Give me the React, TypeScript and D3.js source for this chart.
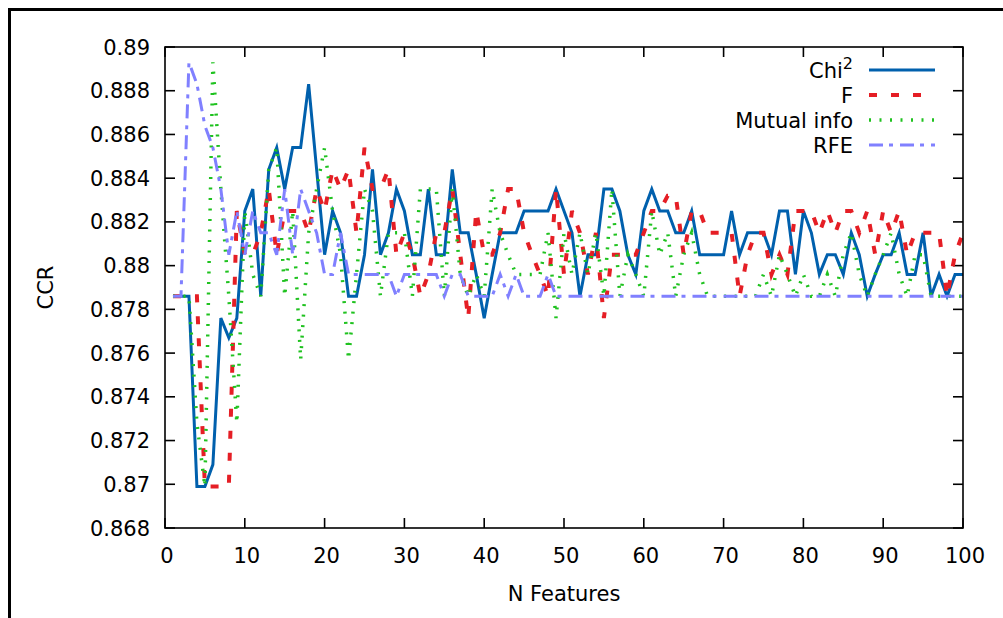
import React from "react";
import * as d3 from "d3";

// number of selected features (x) and classification rate (CCR) per method
const nFeatures = d3.range(1, 101);

const chi2 = [
  0.8786, 0.8786, 0.8786, 0.8699, 0.8699, 0.8709, 0.8776, 0.8767, 0.8776, 0.8825,
  0.8835, 0.8786, 0.8844, 0.8854, 0.8835, 0.8854, 0.8854, 0.8883, 0.8844, 0.8805,
  0.8825, 0.8815, 0.8786, 0.8786, 0.8805, 0.8844, 0.8805, 0.8815, 0.8835, 0.8825,
  0.8805, 0.8805, 0.8835, 0.8805, 0.8805, 0.8844, 0.8815, 0.8815, 0.8796, 0.8776,
  0.8796, 0.8815, 0.8815, 0.8815, 0.8825, 0.8825, 0.8825, 0.8825, 0.8835, 0.8825,
  0.8815, 0.8786, 0.8805, 0.8805, 0.8835, 0.8835, 0.8825, 0.8805, 0.8796, 0.8825,
  0.8835, 0.8825, 0.8825, 0.8815, 0.8815, 0.8825, 0.8805, 0.8805, 0.8805, 0.8805,
  0.8825, 0.8805, 0.8815, 0.8815, 0.8815, 0.8805, 0.8825, 0.8825, 0.8796, 0.8825,
  0.8815, 0.8796, 0.8805, 0.8805, 0.8796, 0.8815, 0.8805, 0.8786, 0.8796, 0.8805,
  0.8805, 0.8815, 0.8796, 0.8796, 0.8815, 0.8786, 0.8796, 0.8786, 0.8796, 0.8796,
];

const fScore = [
  0.8786, 0.8786, 0.8786, 0.8786, 0.8699, 0.8699, 0.8699, 0.8699, 0.8825, 0.8805,
  0.8805, 0.8815, 0.8835, 0.8805, 0.8825, 0.8825, 0.8825, 0.8815, 0.8835, 0.8825,
  0.8844, 0.8835, 0.8844, 0.8815, 0.8854, 0.8835, 0.8835, 0.8844, 0.8805, 0.8815,
  0.8805, 0.8786, 0.8796, 0.8815, 0.8815, 0.8835, 0.8805, 0.8776, 0.8825, 0.8805,
  0.8805, 0.8815, 0.8835, 0.8835, 0.8815, 0.8805, 0.8796, 0.8786, 0.8835, 0.8796,
  0.8825, 0.8815, 0.8796, 0.8815, 0.8776, 0.8805, 0.8805, 0.8805, 0.8805, 0.8815,
  0.8825, 0.8825, 0.8832, 0.8832, 0.8805, 0.8825, 0.8825, 0.8815, 0.8815, 0.8815,
  0.8815, 0.8786, 0.8805, 0.8815, 0.8815, 0.8796, 0.8805, 0.8796, 0.8825, 0.8825,
  0.8825, 0.8815, 0.8825, 0.8815, 0.8825, 0.8825, 0.8815, 0.8825, 0.8805, 0.8825,
  0.8815, 0.8825, 0.8805, 0.8815, 0.8815, 0.8815, 0.8815, 0.8786, 0.8805, 0.8815,
];

const mutualInfo = [
  0.8786, 0.8786, 0.8786, 0.8728, 0.8699, 0.8893, 0.8835, 0.8786, 0.8728, 0.8825,
  0.8796, 0.8786, 0.8844, 0.8854, 0.8786, 0.8825, 0.8757, 0.8815, 0.8835, 0.8854,
  0.8825, 0.8805, 0.8757, 0.8796, 0.8835, 0.8825, 0.8786, 0.8815, 0.8815, 0.8815,
  0.8786, 0.8835, 0.8835, 0.8835, 0.8786, 0.8835, 0.8796, 0.8786, 0.8796, 0.8786,
  0.8835, 0.8815, 0.8805, 0.8796, 0.8796, 0.8796, 0.8796, 0.8815, 0.8776, 0.8815,
  0.8796, 0.8815, 0.8796, 0.8815, 0.8786, 0.8835, 0.8786, 0.8805, 0.8796, 0.8786,
  0.8825, 0.8805, 0.8815, 0.8786, 0.8805, 0.8815, 0.8796, 0.8786, 0.8786, 0.8786,
  0.8786, 0.8786, 0.8786, 0.8786, 0.8796, 0.8786, 0.8805, 0.8796, 0.8786, 0.8796,
  0.8786, 0.8786, 0.8796, 0.8786, 0.8805, 0.8815, 0.8796, 0.8786, 0.8796, 0.8805,
  0.8815, 0.8796, 0.8786, 0.8805, 0.8805, 0.8786, 0.8786, 0.8786, 0.8786, 0.8786,
];

const rfe = [
  0.8786, 0.8786, 0.8893, 0.8883, 0.8864, 0.8854, 0.8835, 0.8805, 0.8825, 0.8805,
  0.8825, 0.8815, 0.8815, 0.8805, 0.8835, 0.8805, 0.8835, 0.8825, 0.8815, 0.8796,
  0.8796, 0.8815, 0.8796, 0.8796, 0.8796, 0.8796, 0.8796, 0.8796, 0.8786, 0.8796,
  0.8796, 0.8796, 0.8796, 0.8796, 0.8786, 0.8796, 0.8796, 0.8786, 0.8786, 0.8786,
  0.8786, 0.8796, 0.8786, 0.8796, 0.8786, 0.8786, 0.8786, 0.8796, 0.8786, 0.8786,
  0.8786, 0.8786, 0.8786, 0.8786, 0.8786, 0.8786, 0.8786, 0.8786, 0.8786, 0.8786,
  0.8786, 0.8786, 0.8786, 0.8786, 0.8786, 0.8786, 0.8786, 0.8786, 0.8786, 0.8786,
  0.8786, 0.8786, 0.8786, 0.8786, 0.8786, 0.8786, 0.8786, 0.8786, 0.8786, 0.8786,
  0.8786, 0.8786, 0.8786, 0.8786, 0.8786, 0.8786, 0.8786, 0.8786, 0.8786, 0.8786,
  0.8786, 0.8786, 0.8786, 0.8786, 0.8786, 0.8786, 0.8786, 0.8786, 0.8786, 0.8786,
];

const xTicks = [0, 10, 20, 30, 40, 50, 60, 70, 80, 90, 100];
const yTicks = [0.868, 0.87, 0.872, 0.874, 0.876, 0.878, 0.88, 0.882, 0.884, 0.886, 0.888, 0.89];
const yTickLabels = ["0.868", "0.87", "0.872", "0.874", "0.876", "0.878", "0.88", "0.882", "0.884", "0.886", "0.888", "0.89"];

const seriesNames = ["Chi", "F", "Mutual info", "RFE"];

const W = 1003;
const H = 618;
const FONT = "'DejaVu Sans', sans-serif";

const series = [
  { name: seriesNames[0], values: chi2, color: "#0060ad", dash: null, width: 3 },
  { name: seriesNames[1], values: fScore, color: "#e51e25", dash: "8,14", width: 4 },
  { name: seriesNames[2], values: mutualInfo, color: "#1fc21f", dash: "2,8.5", width: 3.5 },
  { name: seriesNames[3], values: rfe, color: "#8080ff", dash: "14,6,4,7", width: 3 },
];

export default function App() {
  const left = 165, right = 963, top = 47, bottom = 528;
  const x = d3.scaleLinear().domain([0, 100]).range([left, right]);
  const y = d3.scaleLinear().domain([0.868, 0.89]).range([bottom, top]);
  const tick = 10;

  const line = (vals: number[]) =>
    d3.line<number>()
      .x((_, i) => x(nFeatures[i]))
      .y((d) => y(d))(vals) || "";

  const legendRows = [70, 95, 120, 145];

  return (
    <svg
      width={W}
      height={H}
      style={{ position: "absolute", left: 0, top: 0, background: "#fff" }}
      fontFamily={FONT}
    >
      <rect x={0} y={0} width={W} height={H} fill="#fff" />
      {/* outer frame, cut off at right and bottom */}
      <rect x={9.5} y={9.5} width={W + 50} height={H + 50} fill="none" stroke="#000" strokeWidth={3} />

      <defs>
        <clipPath id="plot">
          <rect x={left} y={top} width={right - left} height={bottom - top} />
        </clipPath>
      </defs>

      {/* ticks */}
      {yTicks.map((t, i) => (
        <g key={"y" + i}>
          <line x1={left} x2={left + tick} y1={y(t)} y2={y(t)} stroke="#000" strokeWidth={1.6} />
          <line x1={right} x2={right - tick} y1={y(t)} y2={y(t)} stroke="#000" strokeWidth={1.6} />
          <text x={150} y={y(t)} dy="0.36em" textAnchor="end" fontSize={21}>
            {yTickLabels[i]}
          </text>
        </g>
      ))}
      {xTicks.map((t) => (
        <g key={"x" + t}>
          <line x1={x(t)} x2={x(t)} y1={bottom} y2={bottom - tick} stroke="#000" strokeWidth={1.6} />
          <line x1={x(t)} x2={x(t)} y1={top} y2={top + tick} stroke="#000" strokeWidth={1.6} />
          <text x={x(t) + 2} y={555} dy="0.36em" textAnchor="middle" fontSize={21}>
            {t}
          </text>
        </g>
      ))}

      {/* series */}
      <g clipPath="url(#plot)">
        {series.map((s) => (
          <path
            key={s.name}
            d={line(s.values)}
            fill="none"
            stroke={s.color}
            strokeWidth={s.width}
            strokeDasharray={s.dash || undefined}
            strokeLinejoin="miter"
          />
        ))}
      </g>

      <rect x={left} y={top} width={right - left} height={bottom - top} fill="none" stroke="#000" strokeWidth={1.6} />

      {/* legend */}
      {series.map((s, i) => (
        <g key={"leg" + i}>
          <text x={853} y={legendRows[i]} dy="0.36em" textAnchor="end" fontSize={21}>
            {i === 0 ? (
              <>
                {s.name}
                <tspan fontSize={16} dy="-0.55em">2</tspan>
              </>
            ) : (
              s.name
            )}
          </text>
          <line
            x1={869}
            x2={935}
            y1={legendRows[i]}
            y2={legendRows[i]}
            stroke={s.color}
            strokeWidth={s.width}
            strokeDasharray={s.dash || undefined}
          />
        </g>
      ))}

      {/* axis titles */}
      <text x={564} y={593} dy="0.36em" textAnchor="middle" fontSize={21}>
        N Features
      </text>
      <text
        transform={`translate(45,${(top + bottom) / 2}) rotate(-90)`}
        dy="0.36em"
        textAnchor="middle"
        fontSize={21}
      >
        CCR
      </text>
    </svg>
  );
}
